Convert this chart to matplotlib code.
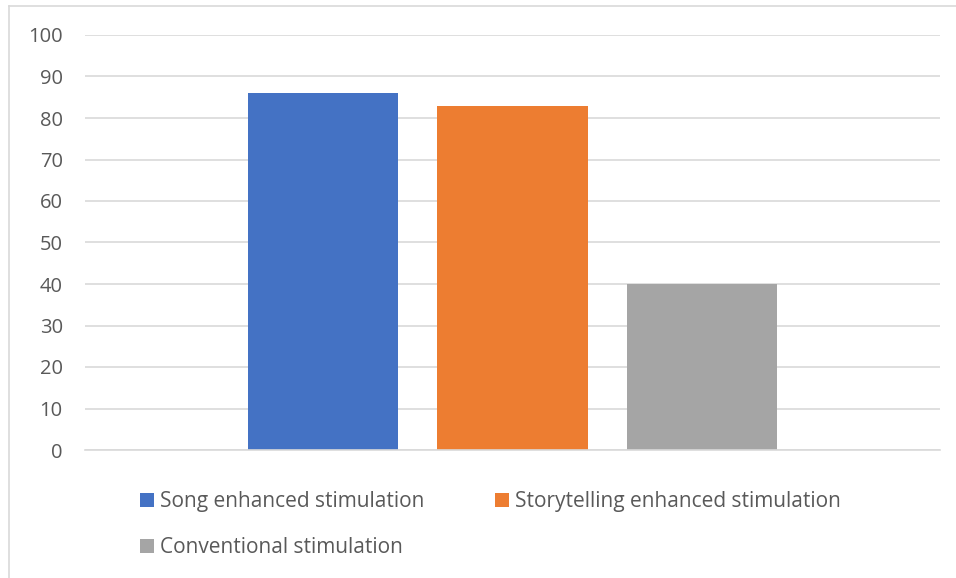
import matplotlib.pyplot as plt

# data
series = ["Song enhanced stimulation", "Storytelling enhanced stimulation", "Conventional stimulation"]
values = [86, 83, 40]
colors = ["#4472C4", "#ED7D31", "#A5A5A5"]
yticks = [0, 10, 20, 30, 40, 50, 60, 70, 80, 90, 100]

plt.rcParams["font.family"] = ["Open Sans", "DejaVu Sans"]

fig = plt.figure(figsize=(9.56, 5.78), dpi=100)
ax = fig.add_axes([85 / 956, 128 / 578, 855 / 956, 415 / 578])

offsets = [-1, 0, 1]
bars = []
for off, v, c, name in zip(offsets, values, colors, series):
    bars.append(ax.bar(off, v, width=0.794, color=c, label=name, zorder=2))

ax.set_xlim(-2.26, 2.26)
ax.set_ylim(0, 100)
ax.set_yticks(yticks)
ax.set_xticks([])
ax.tick_params(axis="y", length=0, pad=16, labelsize=14.5, labelcolor="#595959")
ax.grid(axis="y", color="#d9d9d9", linewidth=1.2, zorder=0)
for s in ["top", "right", "left"]:
    ax.spines[s].set_visible(False)
ax.spines["bottom"].set_color("#d9d9d9")
ax.spines["bottom"].set_linewidth(1.2)

# outer chart border (only top and left visible in the reference)
fig.add_artist(plt.Line2D([8.5 / 956, 1], [1 - 6 / 578, 1 - 6 / 578], color="#d9d9d9", lw=1.2))
fig.add_artist(plt.Line2D([8.5 / 956, 8.5 / 956], [0, 1 - 6 / 578], color="#d9d9d9", lw=1.2))

# legend filled column by column: blue, gray | orange
order = [0, 2, 1]
leg = fig.legend(handles=[bars[i] for i in order], labels=[series[i] for i in order], ncol=2,
                 loc="upper left", bbox_to_anchor=(140 / 956, 1 - 491 / 578),
                 frameon=False, fontsize=15, labelcolor="#595959",
                 handlelength=0.65, handleheight=0.65, handletextpad=0.3,
                 columnspacing=3.4, labelspacing=1.2, borderpad=0, borderaxespad=0)

fig.savefig("out.png", dpi=100)
